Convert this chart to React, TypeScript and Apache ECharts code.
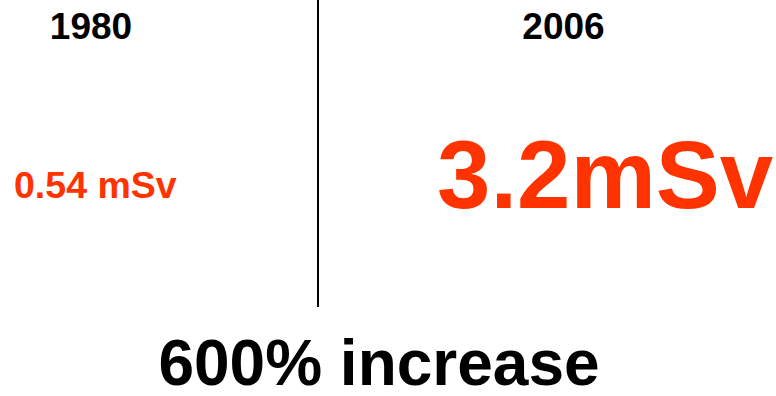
import React, { useEffect, useRef } from "react";
import * as echarts from "echarts";

const years = ["1980", "2006"];
const doses = [0.54, 3.2];
const doseLabels = ["0.54 mSv", "3.2mSv"];
const summary = "600% increase";

const FONT = "'Liberation Sans', Arial, Helvetica, sans-serif";
const RED = "#ff3300";

export default function App() {
  const ref = useRef<HTMLDivElement>(null);
  useEffect(() => {
    if (!ref.current) return;
    const chart = echarts.init(ref.current, undefined, { renderer: "svg" });
    const yearX = [91, 563.5];
    const doseX = [14, 437];
    const doseY = [185, 174];
    const doseSize = [37.5, 96];
    chart.setOption({
      animation: false,
      backgroundColor: "#ffffff",
      graphic: [
        {
          type: "line",
          shape: { x1: 318, y1: 0, x2: 318, y2: 307 },
          style: { stroke: "#000000", lineWidth: 2 },
        },
        ...years.map((y, i) => ({
          type: "text",
          x: yearX[i],
          y: 26.5,
          style: {
            text: y,
            fill: "#000000",
            font: `bold 37px ${FONT}`,
            align: "center",
            verticalAlign: "middle",
          },
        })),
        ...doses.map((d, i) => ({
          type: "text",
          x: doseX[i],
          y: doseY[i],
          style: {
            text: doseLabels[i],
            fill: RED,
            font: `bold ${doseSize[i]}px ${FONT}`,
            align: "left",
            verticalAlign: "middle",
          },
        })),
        {
          type: "text",
          x: 379,
          y: 363,
          style: {
            text: summary,
            fill: "#000000",
            font: `bold 64px ${FONT}`,
            lineHeight: 56,
            align: "center",
            verticalAlign: "middle",
          },
        },
      ],
    });
    return () => chart.dispose();
  }, []);
  return (
    <div
      ref={ref}
      style={{ width: 776, height: 396, position: "absolute", left: 0, top: 0 }}
    />
  );
}
